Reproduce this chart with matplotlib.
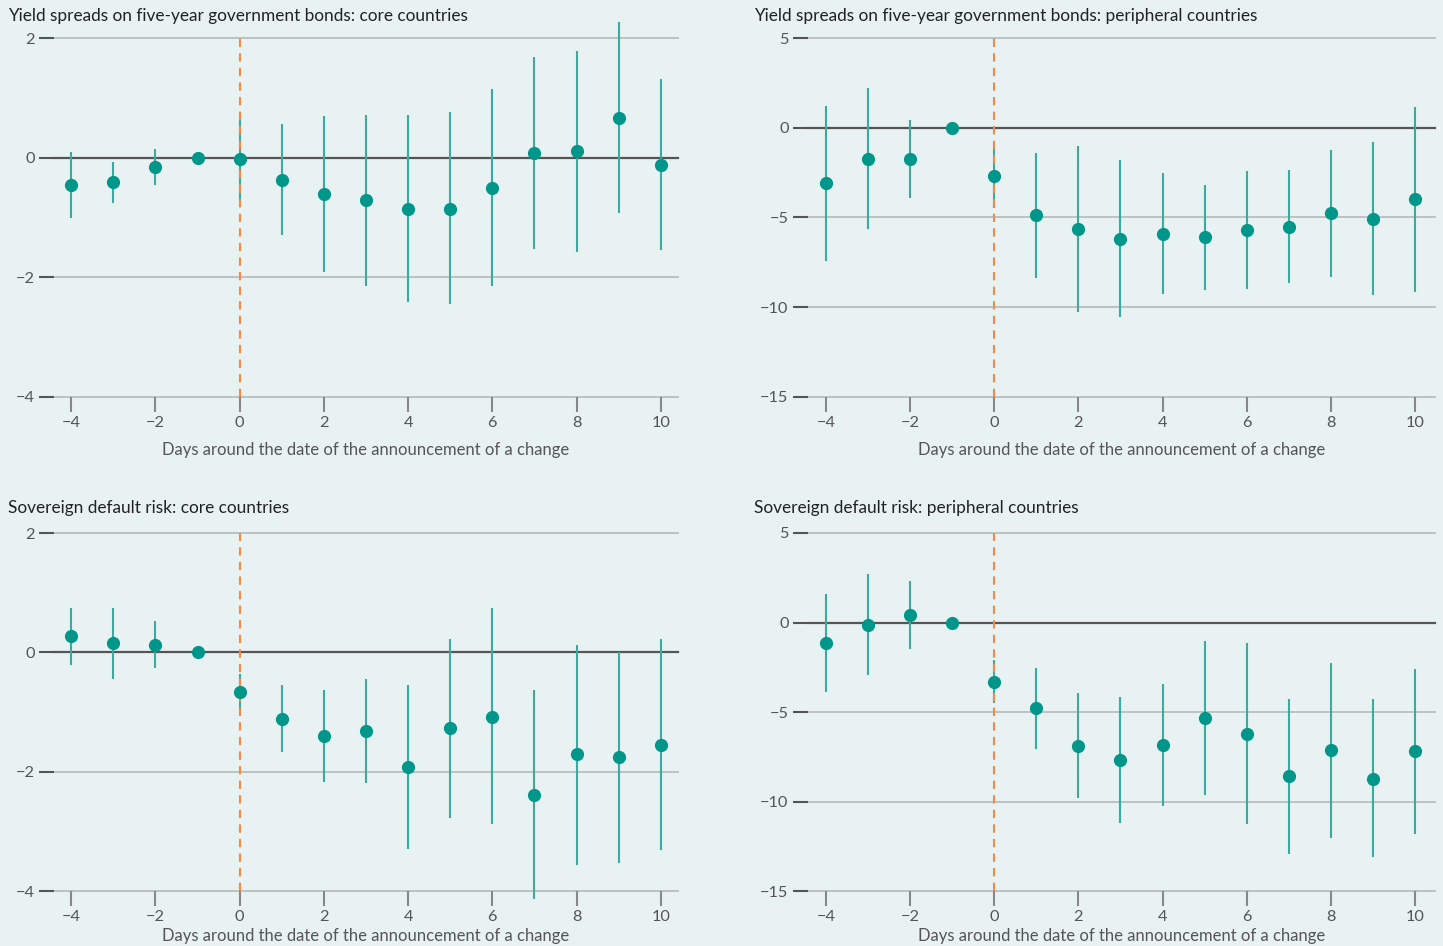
import matplotlib
matplotlib.use("Agg")
import matplotlib.pyplot as plt

# days around the announcement
days = list(range(-4, 11))

# yield spreads, core countries
ys_core_est = [-0.46, -0.41, -0.15, 0.0, -0.03, -0.37, -0.61, -0.71, -0.86, -0.85, -0.50, 0.08, 0.11, 0.67, -0.13]
ys_core_lo = [-1.01, -0.75, -0.46, 0.0, -0.72, -1.30, -1.91, -2.14, -2.42, -2.45, -2.14, -1.52, -1.57, -0.92, -1.55]
ys_core_hi = [0.10, -0.08, 0.15, 0.0, 0.66, 0.56, 0.69, 0.71, 0.71, 0.77, 1.15, 1.68, 1.78, 2.27, 1.31]

# yield spreads, peripheral countries
ys_peri_est = [-3.10, -1.74, -1.76, 0.0, -2.67, -4.88, -5.66, -6.18, -5.92, -6.10, -5.70, -5.51, -4.75, -5.06, -3.99]
ys_peri_lo = [-7.40, -5.66, -3.91, 0.0, -4.49, -8.35, -10.28, -10.54, -9.28, -9.02, -8.96, -8.65, -8.29, -9.33, -9.13]
ys_peri_hi = [1.21, 2.19, 0.43, 0.0, -0.91, -1.39, -1.02, -1.80, -2.52, -3.17, -2.41, -2.37, -1.24, -0.78, 1.13]

# sovereign default risk, core countries
dr_core_est = [0.27, 0.15, 0.13, 0.0, -0.66, -1.11, -1.40, -1.32, -1.92, -1.27, -1.08, -2.39, -1.71, -1.76, -1.55]
dr_core_lo = [-0.21, -0.44, -0.27, 0.0, -0.95, -1.67, -2.17, -2.19, -3.30, -2.77, -2.88, -4.13, -3.56, -3.53, -3.32]
dr_core_hi = [0.74, 0.74, 0.52, 0.0, -0.36, -0.55, -0.63, -0.45, -0.55, 0.22, 0.74, -0.63, 0.13, 0.00, 0.22]

# sovereign default risk, peripheral countries
dr_peri_est = [-1.15, -0.13, 0.41, 0.0, -3.35, -4.80, -6.91, -7.69, -6.85, -5.35, -6.24, -8.59, -7.13, -8.72, -7.19]
dr_peri_lo = [-3.89, -2.96, -1.48, 0.0, -4.52, -7.07, -9.81, -11.22, -10.26, -9.65, -11.26, -12.91, -12.02, -13.11, -11.80]
dr_peri_hi = [1.59, 2.72, 2.31, 0.0, -2.11, -2.54, -3.96, -4.15, -3.41, -1.04, -1.17, -4.26, -2.26, -4.30, -2.57]

titles = [
    "Yield spreads on five-year government bonds: core countries",
    "Yield spreads on five-year government bonds: peripheral countries",
    "Sovereign default risk: core countries",
    "Sovereign default risk: peripheral countries",
]
xlabel = "Days around the date of the announcement of a change"
core_ticks = [-4, -2, 0, 2]
peri_ticks = [-15, -10, -5, 0, 5]
x_ticks = [-4, -2, 0, 2, 4, 6, 8, 10]

BG = "#e8f2f2"
TEAL = "#00968a"
BAR = "#3aaba1"
ORANGE = "#f0894a"
GRID = "#b9bebe"

plt.rcParams["font.family"] = ["Lato", "DejaVu Sans"]

W, H = 1443, 946
fig = plt.figure(figsize=(W / 100, H / 100), dpi=100, facecolor=BG)

panels = [
    # left, right, top, bottom (px), xlim, yticks, data, title pos, xlabel y
    (54, 678, 38, 397, (-4.41, 10.41), core_ticks, (ys_core_est, ys_core_lo, ys_core_hi), (8, 16), 450),
    (808, 1435, 38, 397, (-4.43, 10.48), peri_ticks, (ys_peri_est, ys_peri_lo, ys_peri_hi), (754, 16), 450),
    (54, 678, 533, 891, (-4.41, 10.41), core_ticks, (dr_core_est, dr_core_lo, dr_core_hi), (8, 508), 936),
    (808, 1435, 533, 891, (-4.43, 10.48), peri_ticks, (dr_peri_est, dr_peri_lo, dr_peri_hi), (754, 508), 936),
]

for i, (l, r, t, b, xlim, yticks, data, tpos, xl_y) in enumerate(panels):
    ax = fig.add_axes([l / W, 1 - b / H, (r - l) / W, (b - t) / H])
    ax.set_facecolor(BG)
    est, lo, hi = data
    ymin, ymax = yticks[0], yticks[-1]
    ax.set_xlim(*xlim)
    ax.set_ylim(ymin, ymax)

    for v in yticks:
        if v != 0:
            ax.axhline(v, color=GRID, lw=1.3, zorder=0, clip_on=False)
    ax.axhline(0, color="#555555", lw=1.6, zorder=1, clip_on=False)

    ax.plot([0, 0], [ymin, ymax], color=ORANGE, lw=1.5, ls=(0, (4, 3)), zorder=2.5, clip_on=False)

    err_lo = [e - a for e, a in zip(est, lo)]
    err_hi = [h - e for e, h in zip(est, hi)]
    ax.errorbar(days, est, yerr=[err_lo, err_hi], fmt="none", ecolor=BAR, elinewidth=1.5,
                capsize=0, zorder=2, clip_on=False)
    ax.plot(days, est, "o", color=TEAL, ms=9.5, mec="none", zorder=3, clip_on=False)

    for s in ax.spines.values():
        s.set_visible(False)
    ax.set_yticks(yticks)
    ax.set_yticklabels([str(v).replace("-", "\u2212") for v in yticks])
    ax.set_xticks(x_ticks)
    ax.set_xticklabels([str(v).replace("-", "\u2212") for v in x_ticks])
    ax.tick_params(axis="y", direction="out", length=11, width=1.5, color="#555555",
                   labelsize=11.8, labelcolor="#555555", pad=3)
    ax.tick_params(axis="x", direction="out", length=10.5, width=1.5, color="#888888",
                   labelsize=11.8, labelcolor="#555555", pad=3)

    fig.text(tpos[0] / W, 1 - tpos[1] / H, titles[i], fontsize=12.4, color="#222222",
             ha="left", va="center")
    fig.text((l + r) / 2 / W, 1 - xl_y / H, xlabel, fontsize=12, color="#555555",
             ha="center", va="center")

fig.savefig("out.png", dpi=100, facecolor=BG)
